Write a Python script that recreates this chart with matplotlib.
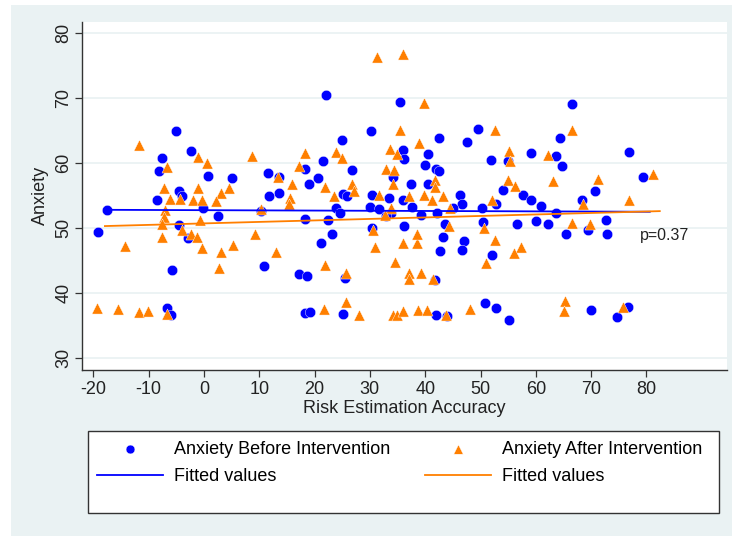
import numpy as np
import matplotlib
matplotlib.use("Agg")
import matplotlib.pyplot as plt
from matplotlib.patches import Rectangle

plt.rcParams['font.family'] = ['Liberation Sans', 'DejaVu Sans']
plt.rcParams['axes.unicode_minus'] = False

# anxiety before intervention (blue circles)
before_x = [-5.1, -2.3, -7.6, -8.2, 0.7, 5.0, -4.6, -4.0, -8.4, -17.6, -0.2, 2.5, -19.1, -4.5, -2.9,
            -5.7, -6.7, -6.0,
            22.1, 35.4, 30.2, 25.0, 42.5, 35.9, 40.5, 36.2, 21.5, 39.9, 41.9, 42.5, 26.7, 11.6, 18.3,
            20.6, 19.0, 34.1, 37.4, 40.5, 13.6, 13.6, 11.8, 25.2, 25.9, 30.4, 33.5, 35.9, 37.6, 30.1,
            31.7, 23.9, 24.6, 33.9, 33.0, 39.2, 42.1, 10.4, 18.3, 22.5, 23.2, 21.1, 30.4, 36.2, 43.3,
            66.5, 49.5, 47.5, 64.4, 76.9, 59.1, 63.6, 51.9, 55.0, 64.8, 79.3, 54.1, 70.7, 57.6, 59.1,
            60.9, 68.3, 46.2, 46.6, 45.1, 52.8, 50.3, 63.6, 43.6, 50.4, 56.6, 60.0, 62.2, 72.7, 69.5,
            65.4, 72.9, 47.1,
            42.6, 10.9, 17.1, 18.7, 25.5, 41.8, 18.3, 19.1, 25.1, 41.9,
            46.6, 52.0, 50.8, 52.8, 55.1, 43.9, 69.9, 74.7, 76.7]
before_y = [65.0, 61.9, 60.8, 58.9, 58.0, 57.7, 55.8, 55.0, 54.3, 52.8, 53.2, 51.9, 49.5, 50.5, 48.5,
            43.6, 37.7, 36.7,
            70.5, 69.5, 65.0, 63.6, 63.9, 62.0, 61.4, 60.7, 60.4, 59.7, 59.2, 58.8, 59.0, 58.5, 59.1,
            57.8, 56.8, 57.9, 56.9, 56.8, 57.9, 55.5, 55.0, 55.3, 55.0, 55.1, 54.6, 54.3, 53.3, 53.3,
            53.0, 53.2, 52.4, 52.3, 51.9, 52.1, 52.4, 52.7, 51.4, 51.3, 49.2, 47.7, 50.1, 50.3, 48.7,
            69.1, 65.3, 63.3, 63.9, 61.8, 61.6, 61.2, 60.5, 60.3, 59.6, 57.9, 55.9, 55.8, 55.1, 54.3,
            53.5, 54.4, 55.1, 53.7, 53.1, 53.8, 53.1, 52.3, 50.7, 50.9, 50.6, 51.1, 50.7, 51.3, 49.7,
            49.1, 49.1, 48.1,
            46.5, 44.2, 43.0, 42.7, 42.3, 42.1, 37.0, 37.1, 36.8, 36.7,
            46.7, 45.9, 38.5, 37.7, 35.9, 36.5, 37.4, 36.4, 37.9]

# anxiety after intervention (orange triangles)
after_x = [31.3, 36.0,
           -11.8, -1.0, 0.6, -6.6, 8.7, -7.2, -1.0, 3.1, 4.6, -6.1, -4.3, -2.0, -0.4, 2.2, -7.0,
           -7.2, -7.6, -4.0, -0.8, -7.5, -2.3, -1.3, 9.3,
           -14.2, -0.4, 3.1, 5.2, 2.8, -19.4, -15.5, -11.7, -10.1, -6.7,
           39.8, 35.4, 38.8, 33.6, 34.9, 18.2, 23.9, 25.0, 17.2, 33.0, 34.4, 13.4, 15.9, 34.1, 21.8,
           26.7, 27.2, 23.5, 41.8, 41.8, 31.6, 37.1, 39.8, 43.3, 41.2, 15.6, 15.4, 33.8, 32.7, 10.4,
           30.5, 35.9, 38.6, 38.5,
           52.6, 66.6, 55.1, 62.2, 55.3, 55.0, 63.1, 71.2, 81.1, 56.2, 52.0, 44.5, 68.5, 76.8, 44.3,
           50.6, 66.6, 69.8, 52.6,
           13.1, 30.9, 21.9, 25.7, 34.5, 37.1, 39.2, 37.1, 41.4, 21.7, 25.7, 28.0, 34.1, 34.9, 36.0,
           38.7, 40.4,
           57.4, 56.0, 50.9, 43.8, 48.1, 65.3, 65.1, 75.7]
after_y = [76.4, 76.9,
           62.8, 61.0, 60.1, 59.4, 61.1, 56.2, 56.2, 55.4, 56.2, 54.5, 54.5, 54.4, 54.4, 54.2, 52.8,
           51.7, 50.7, 49.7, 51.3, 48.6, 49.2, 48.6, 49.2,
           47.3, 46.9, 46.3, 47.4, 43.9, 37.7, 37.6, 37.1, 37.3, 36.8,
           69.3, 65.1, 63.2, 62.2, 61.5, 61.6, 61.8, 60.8, 59.6, 59.1, 59.0, 57.9, 56.9, 56.9, 56.3,
           56.8, 55.8, 55.0, 57.5, 56.3, 55.1, 54.9, 55.1, 54.9, 54.4, 54.6, 53.7, 53.2, 52.1, 53.0,
           49.8, 47.8, 47.7, 49.2,
           65.1, 65.2, 61.9, 61.3, 60.4, 57.5, 57.3, 57.6, 58.3, 56.5, 54.3, 53.2, 53.7, 54.3, 50.4,
           50.0, 50.8, 50.6, 48.2,
           46.4, 47.1, 44.4, 43.2, 44.8, 43.2, 43.2, 42.2, 42.2, 37.6, 38.6, 36.7, 36.7, 36.7, 37.3,
           37.4, 37.4,
           47.2, 46.2, 44.6, 36.7, 37.6, 38.8, 37.3, 37.9]

# fitted lines (end points)
fit_before_x = [-17.6, 80.6]
fit_before_y = [52.85, 52.55]
fit_after_x = [-17.9, 82.4]
fit_after_y = [50.35, 52.65]

xticks = [-20, -10, 0, 10, 20, 30, 40, 50, 60, 70, 80]
yticks = [30, 40, 50, 60, 70, 80]

BLUE = '#0000FF'
ORANGE = '#FF7F00'
BG = '#EAF2F3'
W, H = 732, 536

fig = plt.figure(figsize=(W / 100, H / 100), dpi=100, facecolor='white')
fig.patches.append(Rectangle((11 / W, 0), 1 - 11 / W, 1 - 5 / H, transform=fig.transFigure,
                             facecolor=BG, edgecolor='none', zorder=-10))

ax = fig.add_axes([81.7 / W, 1 - 370 / H, (726.7 - 81.7) / W, (370 - 21.7) / H])
ax.set_facecolor('white')

sc1 = ax.scatter(before_x, before_y, s=56, marker='o', color=BLUE, edgecolors='white',
                 linewidths=0.3, zorder=3, label='Anxiety Before Intervention')
sc2 = ax.scatter(after_x, after_y, s=64, marker='^', color=ORANGE, edgecolors='white',
                 linewidths=0.3, zorder=4, label='Anxiety After Intervention')
l1, = ax.plot(fit_before_x, fit_before_y, color=BLUE, lw=1.3, zorder=5, label='Fitted values')
l2, = ax.plot(fit_after_x, fit_after_y, color=ORANGE, lw=1.3, zorder=5, label='Fitted values')

ax.text(78.8, 48.85, 'p=0.37', fontsize=11.5, ha='left', va='center', color='#222222')

ax.set_xlim(-22.1, 94.5)
ax.set_ylim(28.2, 81.8)
ax.set_xticks(xticks)
ax.set_yticks(yticks)
ax.yaxis.grid(True, color=BG, lw=1.3)
ax.set_axisbelow(True)

for s in ['top', 'right']:
    ax.spines[s].set_visible(False)
for s in ['left', 'bottom']:
    ax.spines[s].set_color('#333333')
    ax.spines[s].set_linewidth(1.0)

ax.tick_params(direction='out', length=4.7, width=0.9, color='#333333',
               labelsize=13, labelcolor='#222222')
ax.tick_params(axis='x', pad=3)
ax.tick_params(axis='y', pad=2, labelrotation=90)
for t in ax.get_yticklabels():
    t.set_va('center')

ax.set_xlabel('Risk Estimation Accuracy', fontsize=13, color='#222222')
ax.xaxis.set_label_coords(0.5, -0.086)
ax.set_ylabel('Anxiety', fontsize=13, color='#222222')
ax.yaxis.set_label_coords(-0.051, 0.5)

# legend box
fig.patches.append(Rectangle((87.7 / W, 1 - 512.7 / H), (719 - 87.7) / W, (512.7 - 430.7) / H,
                             transform=fig.transFigure, facecolor='white',
                             edgecolor='#333333', lw=1.0, zorder=-5))
leg_kw = dict(loc='upper left', frameon=False, borderpad=0, handlelength=3.65,
              handletextpad=0.64, labelspacing=0.57, fontsize=13, scatterpoints=1,
              borderaxespad=0, markerscale=0.85)
fig.legend(handles=[sc1, l1], bbox_to_anchor=(96.7 / W, 1 - 440.6 / H), **leg_kw)
fig.legend(handles=[sc2, l2], bbox_to_anchor=(425 / W, 1 - 440.6 / H), **leg_kw)

fig.savefig('out.png', dpi=100, facecolor=fig.get_facecolor())
